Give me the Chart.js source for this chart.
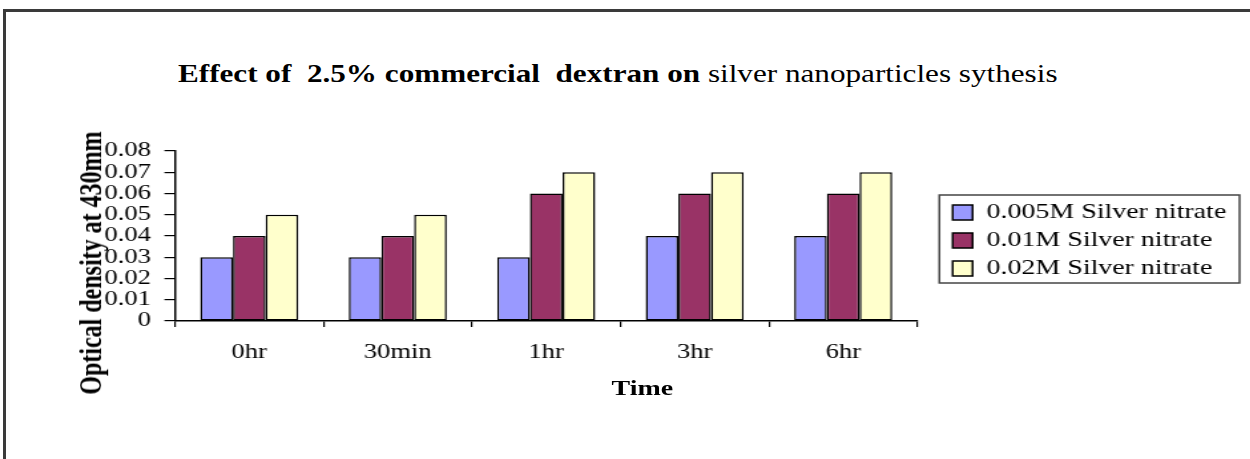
<!DOCTYPE html>
<html>
<head>
<meta charset="utf-8">
<title>Dextran silver nanoparticles</title>
<script src="https://cdn.jsdelivr.net/npm/chart.js@4.4.1/dist/chart.umd.min.js"></script>
<style>
  html, body { margin: 0; padding: 0; background: #fff; width: 1250px; height: 459px; overflow: hidden; }
  #frame { position: absolute; left: 3px; top: 9px; width: 1400px; height: 600px;
           border-left: 3px solid #3a3a3a; border-top: 3px solid #3a3a3a; }
  /* the whole plot is drawn narrow and widened as one piece */
  #stage { position: absolute; left: 0; top: 0; width: 940px; height: 459px;
           transform: scaleX(1.33); transform-origin: 0 0; }
  #chart { position: absolute; left: 0; top: 0; }
  .axisTitle { position: absolute; font-family: "Liberation Serif", "Times New Roman", serif;
               font-weight: bold; color: #000; white-space: nowrap; line-height: 1; }
  #yTitle { font-size: 24px; left: 67.5px; top: 263px; transform: translate(-50%, -50%) rotate(-90deg); }
  #xTitle { font-size: 21px; left: 483px; top: 388px; transform: translate(-50%, -50%); }
  #title { position: absolute; left: 178px; top: 61px; font-family: "Liberation Serif", "Times New Roman", serif;
           font-size: 25px; line-height: 1; white-space: pre; color: #000; transform-origin: 0 0; }
  #title b { font-weight: bold; }
</style>
</head>
<body>
<div id="frame"></div>
<div id="title"><b>Effect of  2.5% commercial  dextran on</b> silver nanoparticles sythesis</div>
<div id="stage">
  <canvas id="chart" width="940" height="459" style="width:940px;height:459px"></canvas>
  <div class="axisTitle" id="yTitle">Optical density at 430mm</div>
  <div class="axisTitle" id="xTitle">Time</div>
</div>
<script>
const categories = ['0hr', '30min', '1hr', '3hr', '6hr'];
const seriesNames = ['0.005M Silver nitrate', '0.01M Silver nitrate', '0.02M Silver nitrate'];
const silver005 = [0.03, 0.03, 0.03, 0.04, 0.04];
const silver01 = [0.04, 0.04, 0.06, 0.06, 0.06];
const silver02 = [0.05, 0.05, 0.07, 0.07, 0.07];
const yTicks = ['0', '0.01', '0.02', '0.03', '0.04', '0.05', '0.06', '0.07', '0.08'];
const barColors = ['#9999FF', '#993366', '#FFFFCC'];

// title is stretched to its printed width
const titleEl = document.getElementById('title');
titleEl.style.transform = 'scaleX(' + (880 / titleEl.offsetWidth) + ')';

Chart.defaults.font.family = '"Liberation Serif", "Times New Roman", serif';
Chart.defaults.color = '#000';

// box drawn round the legend entries
const legendFrame = {
  id: 'legendFrame',
  afterDraw(chart) {
    const hb = chart.legend.legendHitBoxes;
    if (!hb || !hb.length) return;
    let l = Infinity, t = Infinity, r = -Infinity, b = -Infinity;
    hb.forEach(h => {
      l = Math.min(l, h.left); t = Math.min(t, h.top);
      r = Math.max(r, h.left + h.width); b = Math.max(b, h.top + h.height);
    });
    const ctx = chart.ctx;
    ctx.save();
    ctx.strokeStyle = '#444';
    ctx.lineWidth = 1.5;
    ctx.strokeRect(l - 10, t - 7, r - l + 20, b - t + 11);
    ctx.restore();
  }
};

const seriesData = [silver005, silver01, silver02];

new Chart(document.getElementById('chart').getContext('2d'), {
  type: 'bar',
  data: {
    labels: categories,
    datasets: seriesNames.map((name, i) => ({
      label: name,
      data: seriesData[i],
      backgroundColor: barColors[i],
      borderColor: '#000',
      borderWidth: 1.5,
      borderSkipped: false,
      categoryPercentage: 0.66,
      barPercentage: 1
    }))
  },
  options: {
    responsive: false,
    animation: false,
    devicePixelRatio: 1,
    layout: { padding: { left: 0, top: 151, right: 8, bottom: 0 } },
    plugins: {
      title: { display: false },
      tooltip: { enabled: false },
      legend: {
        position: 'right',
        fullSize: false,
        maxWidth: 300,
        // empty title only pushes the entries a little lower
        title: { display: true, text: '', font: { size: 2.5 }, padding: 3 },
        labels: {
          font: { size: 21 },
          color: '#000',
          boxWidth: 15,
          boxHeight: 15,
          padding: 7
        }
      }
    },
    scales: {
      x: {
        offset: true,
        grid: { drawOnChartArea: false, drawTicks: true, tickLength: 6, color: '#000', lineWidth: 1.2, offset: true },
        border: { color: '#000', width: 1.5 },
        ticks: { font: { size: 20 }, color: '#000', padding: 14, maxRotation: 0, autoSkip: false },
        afterFit: s => { s.height = 138; }
      },
      y: {
        min: 0,
        max: 0.08,
        grid: { drawOnChartArea: false, tickLength: 8, color: '#000', lineWidth: 1.2 },
        border: { color: '#000', width: 1.5 },
        ticks: {
          stepSize: 0.01,
          autoSkip: false,
          font: { size: 20 },
          color: '#000',
          padding: 10,
          callback: (v, i) => yTicks[i]
        },
        afterFit: s => { s.width = 131.6; }
      },
      // empty axis that keeps a gap between plot and legend
      gap: {
        type: 'linear',
        position: 'right',
        grid: { display: false },
        ticks: { display: false },
        border: { display: false },
        afterFit: s => { s.width = 19.5; }
      }
    }
  },
  plugins: [legendFrame]
});
</script>
</body>
</html>
